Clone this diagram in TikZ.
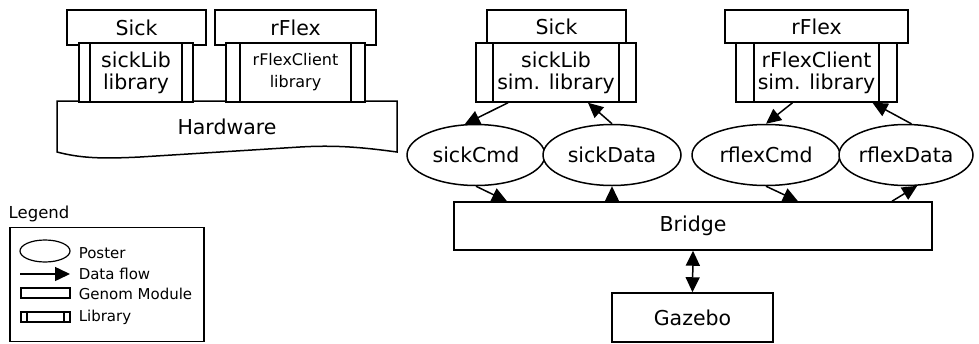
\documentclass[tikz,border=0pt]{standalone}
\usepackage{fontspec}
\setmainfont{DejaVu Sans}
\usetikzlibrary{
  arrows.meta,
  shapes.geometric
}

\begin{document}
\begin{tikzpicture}[
  x=1pt, y=-1pt,
  line width=1.5pt,
  every node/.style = {inner sep=0pt, align=center,
    font=\fontsize{20.5}{22}\selectfont},
  module/.style = {draw, fill=white, rectangle},
  libbox/.style = {draw, fill=white, rectangle,
    path picture={\draw
      ([xshift=#1]path picture bounding box.north west) --
      ([xshift=#1]path picture bounding box.south west)
      ([xshift=-#1]path picture bounding box.north east) --
      ([xshift=-#1]path picture bounding box.south east);}},
  poster/.style = {draw, fill=white, ellipse},
  flow/.style = {-{Triangle[length=15pt,width=14pt]}},
  key/.style = {anchor=west, font=\fontsize{15}{16}\selectfont}]
  \useasboundingbox (0,0) rectangle (979,343);

  \draw[fill=white] (57,101) -- (397,101) -- (397,152)
    .. controls (360,147) and (335,145) .. (300,147) -- (140,157)
    .. controls (100,159) and (80,158) .. (57,152) -- cycle;
  \node (hardware) at (227,127) {Hardware};

  \node[module, minimum width=139pt, minimum height=35pt] (sickL) at (136.5,27.5) {Sick};
  \node[libbox=11pt, minimum width=114pt, minimum height=59pt] (sickLibL) at (136,72.5) {sickLib\\library};
  \node[module, minimum width=161pt, minimum height=35pt] (rflexL) at (295.5,27.5) {rFlex};
  \node[libbox=14pt, minimum width=139pt, minimum height=59pt,
    font=\fontsize{16}{22}\selectfont] (rflexLibL) at (295.5,72.5) {rFlexClient\\library};

  \node[module, minimum width=139pt, minimum height=33pt] (sickR) at (556.5,26.5) {Sick};
  \node[libbox=17pt, minimum width=160pt, minimum height=59pt] (sickLibR) at (556,72.5) {sickLib\\sim. library};
  \node[module, minimum width=183pt, minimum height=33pt] (rflexR) at (816.5,26.5) {rFlex};
  \node[libbox=18pt, minimum width=161pt, minimum height=59pt] (rflexLibR) at (816.5,72.5) {rFlexClient\\sim. library};

  \node[poster, minimum width=138pt, minimum height=61pt] (sickCmd) at (476,155) {sickCmd};
  \node[poster, minimum width=138pt, minimum height=61pt] (sickData) at (612,155) {sickData};
  \node[poster, minimum width=148pt, minimum height=61pt] (rflexCmd) at (766,155) {rflexCmd};
  \node[poster, minimum width=134pt, minimum height=61pt] (rflexData) at (906,155) {rflexData};

  \node[module, minimum width=478pt, minimum height=48pt] (bridge) at (693,226) {Bridge};
  \node[module, minimum width=161pt, minimum height=49pt] (gazebo) at (692.5,317.5) {Gazebo};

  \draw[flow] ([xshift=-48pt]sickLibR.south) -- (sickCmd.110);
  \draw[flow] (sickData.north) -- ([xshift=32pt]sickLibR.south);
  \draw[flow] (sickCmd.south) -- ([xshift=-186pt]bridge.north);
  \draw[flow] ([xshift=-81pt]bridge.north) -- (sickData.south);
  \draw[flow] ([xshift=-24pt]rflexLibR.south) -- (rflexCmd.north);
  \draw[flow] (rflexData.80) -- ([xshift=56pt]rflexLibR.south);
  \draw[flow] (rflexCmd.south) -- ([xshift=105pt]bridge.north);
  \draw[flow] ([xshift=199pt]bridge.north) -- (rflexData.-70);
  \draw[{Triangle[length=15pt,width=14pt]}-{Triangle[length=15pt,width=14pt]}]
    (bridge.south) -- (gazebo.north);

  \node[key, font=\fontsize{16.5}{18}\selectfont] (legend) at (8,214) {Legend};
  \node[draw, line width=1.2pt, minimum width=194pt, minimum height=114pt] (legendbox) at (107,284.5) {};
  \node[poster, line width=1.2pt, minimum width=50pt, minimum height=22pt] (keyPoster) at (45,251) {};
  \coordinate (keyFrom) at (20,274);
  \coordinate (keyTo) at (70,274);
  \draw[flow] (keyFrom) -- (keyTo);
  \node[module, line width=1.2pt, minimum width=49pt, minimum height=10pt] (keyModule) at (45.5,293) {};
  \node[libbox=6pt, line width=1.2pt, minimum width=49pt, minimum height=10pt] (keyLib) at (45.5,317) {};
  \node[key] (posterText) at (78,253) {Poster};
  \node[key] (flowText) at (78,274) {Data flow};
  \node[key] (moduleText) at (78,294) {Genom Module};
  \node[key] (libText) at (78,317) {Library};
\end{tikzpicture}
\end{document}
